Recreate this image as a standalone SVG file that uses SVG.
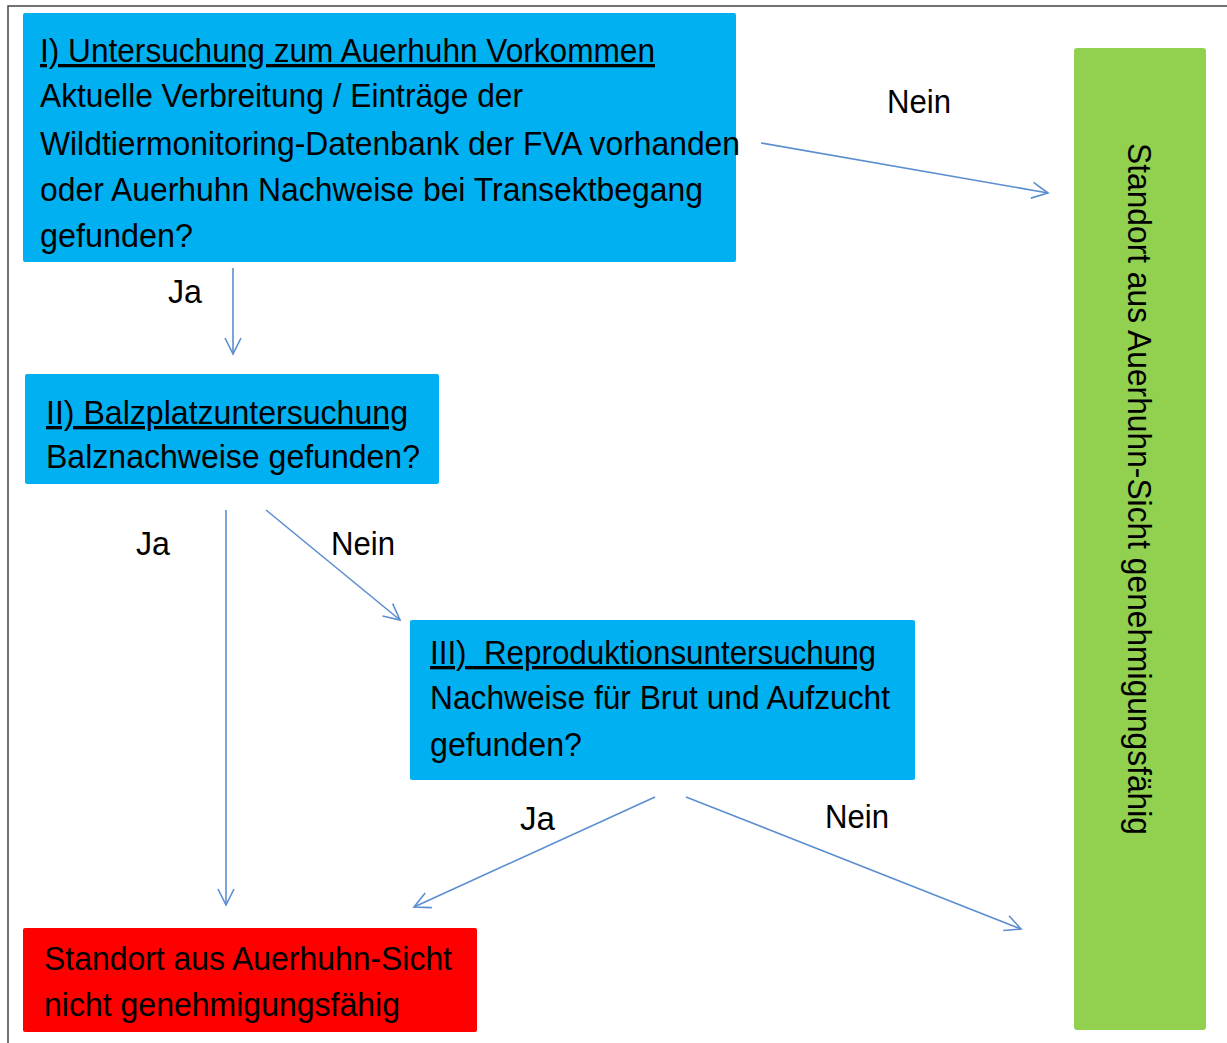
<svg xmlns="http://www.w3.org/2000/svg" width="1227" height="1043" viewBox="0 0 1227 1043">
<style>
text{font-family:"Liberation Sans",Arial,sans-serif;font-size:33px;fill:#000}
.u{text-decoration:underline}
.c{fill:none;stroke:#5B8ED0;stroke-width:1.6}
</style>
<defs>
<marker id="a" viewBox="0 0 20 20" refX="18" refY="10" markerWidth="20" markerHeight="20" markerUnits="userSpaceOnUse" orient="auto">
<path d="M2,2 L18,10 L2,18" fill="none" stroke="#5B8ED0" stroke-width="1.6"/>
</marker>
</defs>
<rect width="1227" height="1043" fill="#fff"/>
<path d="M8,1043 V6 H1227" fill="none" stroke="#444" stroke-width="1.5"/>
<g id="n1">
<rect x="23" y="13" width="713" height="249" rx="2" fill="#00B0F0"/>
<text class="u" x="40" y="62" textLength="615" lengthAdjust="spacingAndGlyphs">I) Untersuchung zum Auerhuhn Vorkommen</text>
<text x="40" y="107" textLength="483" lengthAdjust="spacingAndGlyphs">Aktuelle Verbreitung / Einträge der</text>
<text x="40" y="155" textLength="700" lengthAdjust="spacingAndGlyphs">Wildtiermonitoring-Datenbank der FVA vorhanden</text>
<text x="40" y="201" textLength="663" lengthAdjust="spacingAndGlyphs">oder Auerhuhn Nachweise bei Transektbegang</text>
<text x="40" y="247" textLength="153" lengthAdjust="spacingAndGlyphs">gefunden?</text>
</g>
<g id="n2">
<rect x="25" y="374" width="414" height="110" rx="2" fill="#00B0F0"/>
<text class="u" x="46" y="424" textLength="362" lengthAdjust="spacingAndGlyphs">II) Balzplatzuntersuchung</text>
<text x="46" y="468" textLength="374" lengthAdjust="spacingAndGlyphs">Balznachweise gefunden?</text>
</g>
<g id="n3">
<rect x="410" y="620" width="505" height="160" rx="2" fill="#00B0F0"/>
<text class="u" x="430" y="664" textLength="446" lengthAdjust="spacingAndGlyphs" xml:space="preserve">III)  Reproduktionsuntersuchung</text>
<text x="430" y="709" textLength="460" lengthAdjust="spacingAndGlyphs">Nachweise für Brut und Aufzucht</text>
<text x="430" y="756" textLength="152" lengthAdjust="spacingAndGlyphs">gefunden?</text>
</g>
<g id="n4">
<rect x="23" y="928" width="454" height="104" rx="2" fill="#FF0000"/>
<text x="44" y="970" textLength="408" lengthAdjust="spacingAndGlyphs">Standort aus Auerhuhn-Sicht</text>
<text x="44" y="1016" textLength="356" lengthAdjust="spacingAndGlyphs">nicht genehmigungsfähig</text>
</g>
<g id="n5">
<rect x="1074" y="48" width="132" height="982" rx="3" fill="#92D050"/>
<text transform="translate(1128,143) rotate(90)" x="0" y="0" textLength="692" lengthAdjust="spacingAndGlyphs">Standort aus Auerhuhn-Sicht genehmigungsfähig</text>
</g>
<g id="connectors">
<path class="c" d="M761,143 L1048,193" marker-end="url(#a)"/>
<path class="c" d="M233,268 L233,354" marker-end="url(#a)"/>
<path class="c" d="M226,510 L226,905" marker-end="url(#a)"/>
<path class="c" d="M266,510 L400,620" marker-end="url(#a)"/>
<path class="c" d="M655,797 L414,907" marker-end="url(#a)"/>
<path class="c" d="M686,797 L1021,929" marker-end="url(#a)"/>
<text x="887" y="113" textLength="64" lengthAdjust="spacingAndGlyphs">Nein</text>
<text x="168" y="303" textLength="34" lengthAdjust="spacingAndGlyphs">Ja</text>
<text x="136" y="555" textLength="34" lengthAdjust="spacingAndGlyphs">Ja</text>
<text x="331" y="555" textLength="64" lengthAdjust="spacingAndGlyphs">Nein</text>
<text x="520" y="830" textLength="35" lengthAdjust="spacingAndGlyphs">Ja</text>
<text x="825" y="828" textLength="64" lengthAdjust="spacingAndGlyphs">Nein</text>
</g>
</svg>
